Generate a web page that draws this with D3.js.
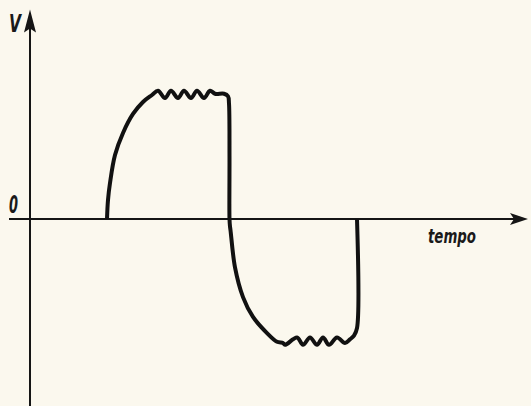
<!DOCTYPE html>
<html>
<head>
<meta charset="utf-8">
<script src="https://cdn.jsdelivr.net/npm/d3@7"></script>
<style>
  html, body { margin: 0; padding: 0; background: #fbf8ee; }
  svg { display: block; }
  .lbl { font-family: "DejaVu Sans Condensed", "DejaVu Sans", sans-serif; font-weight: bold; font-style: italic; fill: #1a1a1a; }
</style>
</head>
<body>
<div id="chart"></div>
<script>
// waveform data: time (arbitrary units) and voltage (normalised)
const tempo = [
  1.54, 1.56, 1.60, 1.70, 1.86, 2.06, 2.26, 2.44,
  2.56, 2.70, 2.82, 2.96, 3.08, 3.22, 3.34, 3.48, 3.60, 3.70,
  3.88, 3.96, 3.98, 3.99, 3.99, 4.00, 4.01,
  4.10, 4.26, 4.46, 4.74, 4.94, 5.06,
  5.10, 5.34, 5.46, 5.60, 5.74, 5.86, 5.98, 6.14, 6.30, 6.40, 6.48, 6.54, 6.54
];
const tensione = [
  0, 0.153, 0.29, 0.516, 0.694, 0.847, 0.944, 1.0,
  1.035, 0.975, 1.035, 0.975, 1.035, 0.975, 1.035, 0.975, 1.035, 1.01,
  1.01, 0.99, 0.93, 0.50, 0.0, -0.06, -0.09,
  -0.39, -0.63, -0.79, -0.92, -0.99, -1.0,
  -1.015, -0.955, -1.015, -0.955, -1.015, -0.955, -1.015, -0.955, -1.0, -0.97, -0.94, -0.88, 0
];
const axisT = [-0.42, 9.96];   // horizontal axis extent
const axisV = [-1.51, 1.69];   // vertical axis extent
const labels = {v: "V", zero: "0", t: "tempo"};

const width = 531, height = 406;

const svg = d3.select("#chart")
  .append("svg")
    .attr("width", width)
    .attr("height", height);

const x = d3.scaleLinear().domain([0, 10]).range([30, 530]);
const y = d3.scaleLinear().domain([-1, 1]).range([343, 95]);

// axes
svg.append("line")
  .attr("x1", x(axisT[0])).attr("x2", x(axisT[1]) - 10)
  .attr("y1", y(0)).attr("y2", y(0))
  .attr("stroke", "#151515").attr("stroke-width", 2);

svg.append("line")
  .attr("x1", x(0)).attr("x2", x(0))
  .attr("y1", y(axisV[0])).attr("y2", y(axisV[1]) + 10)
  .attr("stroke", "#151515").attr("stroke-width", 2);

// arrow heads
const xt = x(axisT[1]), yt = y(0);
svg.append("path")
  .attr("d", `M${xt},${yt} L${xt - 18},${yt - 6} L${xt - 14},${yt} L${xt - 18},${yt + 6} Z`)
  .attr("fill", "#151515");
const vx = x(0), vy = y(axisV[1]);
svg.append("path")
  .attr("d", `M${vx},${vy} L${vx - 6},${vy + 23} L${vx},${vy + 19} L${vx + 6},${vy + 23} Z`)
  .attr("fill", "#151515");

// waveform
const pts = tempo.map((t, i) => [t, tensione[i]]);
svg.append("path")
  .datum(pts)
  .attr("fill", "none")
  .attr("stroke", "#111")
  .attr("stroke-width", 4)
  .attr("stroke-linejoin", "round")
  .attr("d", d3.line()
    .x(d => x(d[0]))
    .y(d => y(d[1]))
    .curve(d3.curveCatmullRom.alpha(0.5)));

// labels
svg.append("text").attr("class", "lbl")
  .attr("x", 9).attr("y", 32)
  .attr("font-size", 25)
  .attr("textLength", 12).attr("lengthAdjust", "spacingAndGlyphs")
  .text(labels.v);
svg.append("text").attr("class", "lbl")
  .attr("x", 9).attr("y", 213)
  .attr("font-size", 25)
  .attr("textLength", 9).attr("lengthAdjust", "spacingAndGlyphs")
  .text(labels.zero);
svg.append("text").attr("class", "lbl")
  .attr("x", 428).attr("y", 243)
  .attr("font-size", 19)
  .attr("textLength", 48).attr("lengthAdjust", "spacingAndGlyphs")
  .text(labels.t);
</script>
</body>
</html>
